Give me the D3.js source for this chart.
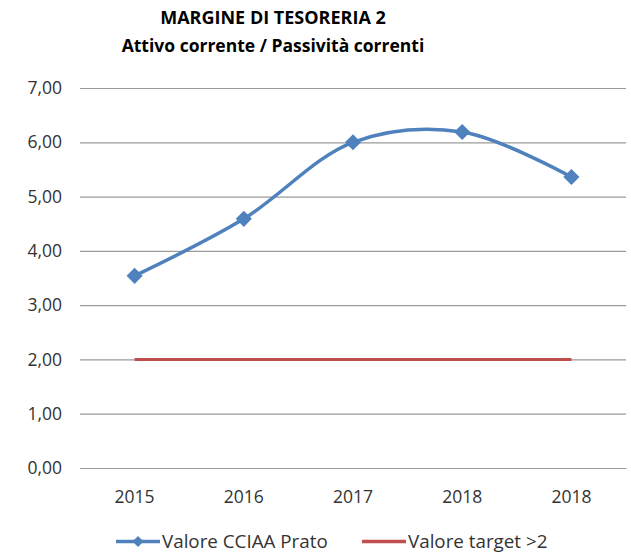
<!DOCTYPE html>
<html>
<head>
<meta charset="utf-8">
<script src="https://cdn.jsdelivr.net/npm/d3@7"></script>
<style>
  body { margin: 0; background: #fff; }
  svg { display: block; }
  .tick text { font-family: "Open Sans", sans-serif; font-size: 17.5px; fill: #333; }
</style>
</head>
<body>
<div id="chart"></div>
<script>
// chart data
var years = ["2015", "2016", "2017", "2018", "2018 "];
var yearLabels = ["2015", "2016", "2017", "2018", "2018"];
var valoreCCIAA = [3.54, 4.59, 6.00, 6.19, 5.36];
var valoreTarget = [2, 2, 2, 2, 2];
var yTicks = [0, 1, 2, 3, 4, 5, 6, 7];

var svgWidth = 631;
var svgHeight = 554;

var margin = { top: 88, right: 5, bottom: 86, left: 80 };
var width = svgWidth - margin.left - margin.right;
var height = svgHeight - margin.top - margin.bottom;

var svg = d3.select("#chart")
   .append("svg")
   .attr("width", svgWidth)
   .attr("height", svgHeight);

// titles
svg.append("text")
   .attr("x", 273)
   .attr("y", 24)
   .attr("text-anchor", "middle")
   .style("font-family", "Open Sans, sans-serif")
   .style("font-weight", "bold")
   .style("font-size", "18px")
   .text("MARGINE DI TESORERIA 2");

svg.append("text")
   .attr("x", 273)
   .attr("y", 52)
   .attr("text-anchor", "middle")
   .style("font-family", "Open Sans, sans-serif")
   .style("font-weight", "bold")
   .style("font-size", "17.5px")
   .text("Attivo corrente / Passività correnti");

var chartGroup = svg.append("g")
   .attr("transform", `translate(${margin.left}, ${margin.top})`);

var xScale = d3.scaleBand()
   .domain(years)
   .range([0, width]);

var yScale = d3.scaleLinear()
   .domain([0, 7])
   .range([height, 0]);

var xPos = d => xScale(d) + xScale.bandwidth() / 2;

// y axis with gridlines
var leftAxis = d3.axisLeft(yScale)
   .tickValues(yTicks)
   .tickSize(-width)
   .tickPadding(18)
   .tickFormat(d => d3.format(".2f")(d).replace(".", ","));

var yAxis = chartGroup.append("g")
   .call(leftAxis);
yAxis.select(".domain").remove();
yAxis.selectAll(".tick line")
   .attr("stroke", "#9a9a9a")
   .attr("stroke-width", 1.2);

// x axis
var bottomAxis = d3.axisBottom(xScale)
   .tickSize(0)
   .tickPadding(23)
   .tickFormat((d, i) => yearLabels[i]);

var xAxis = chartGroup.append("g")
   .attr("transform", `translate(0, ${height})`)
   .call(bottomAxis);
xAxis.select(".domain")
   .attr("stroke", "#9a9a9a")
   .attr("stroke-width", 1.2);

// target line
var targetLine = d3.line()
   .x((d, i) => xPos(years[i]))
   .y(d => yScale(d));

chartGroup.append("path")
   .datum(valoreTarget)
   .attr("d", targetLine)
   .attr("fill", "none")
   .attr("stroke", "#c0504d")
   .attr("stroke-width", 3);

// smoothed CCIAA line
var smoothLine = d3.line()
   .x((d, i) => xPos(years[i]))
   .y(d => yScale(d))
   .curve(d3.curveCatmullRom.alpha(0.5));

chartGroup.append("path")
   .datum(valoreCCIAA)
   .attr("d", smoothLine)
   .attr("fill", "none")
   .attr("stroke", "#4f81bd")
   .attr("stroke-width", 3.5);

var diamond = d3.symbol().type(d3.symbolSquare).size(130);

chartGroup.selectAll(".marker")
   .data(valoreCCIAA)
   .enter()
   .append("path")
   .attr("class", "marker")
   .attr("d", diamond)
   .attr("transform", (d, i) => `translate(${xPos(years[i])}, ${yScale(d)}) rotate(45)`)
   .attr("fill", "#4f81bd");

// legend
var legend = svg.append("g")
   .attr("transform", "translate(0, 541.5)");

legend.append("line")
   .attr("x1", 116).attr("x2", 160)
   .attr("y1", 0).attr("y2", 0)
   .attr("stroke", "#4f81bd")
   .attr("stroke-width", 3.5);
legend.append("path")
   .attr("d", d3.symbol().type(d3.symbolSquare).size(60))
   .attr("transform", "translate(138, 0) rotate(45)")
   .attr("fill", "#4f81bd");
legend.append("text")
   .attr("x", 162)
   .attr("y", 6)
   .style("font-family", "Open Sans, sans-serif")
   .style("font-size", "18.8px")
   .style("fill", "#333")
   .text("Valore CCIAA Prato");

legend.append("line")
   .attr("x1", 362).attr("x2", 406)
   .attr("y1", 0).attr("y2", 0)
   .attr("stroke", "#c0504d")
   .attr("stroke-width", 3.5);
legend.append("text")
   .attr("x", 408)
   .attr("y", 6)
   .style("font-family", "Open Sans, sans-serif")
   .style("font-size", "18.8px")
   .style("fill", "#333")
   .text("Valore target >2");
</script>
</body>
</html>
